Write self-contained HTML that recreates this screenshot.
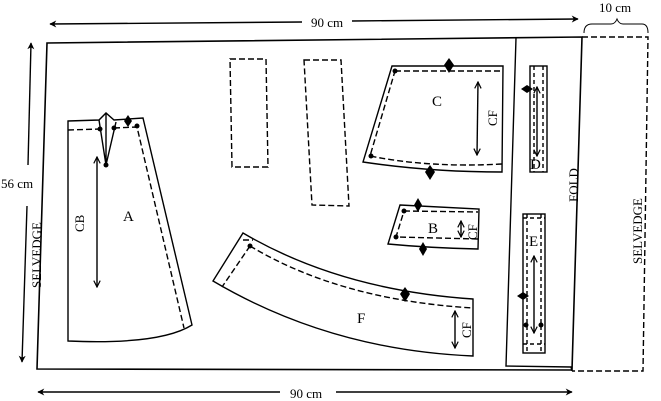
<!DOCTYPE html>
<html><head><style>
html,body{margin:0;padding:0;background:#fff;overflow:hidden;}
svg{display:block;}
text{font-family:"Liberation Serif",serif;fill:#000;stroke:none;}
</style></head><body>
<svg width="661" height="401" viewBox="0 0 661 401" xmlns="http://www.w3.org/2000/svg">
<defs>
<marker id="ah" viewBox="0 0 10 10" refX="9" refY="5" markerWidth="9" markerHeight="7" orient="auto-start-reverse" markerUnits="userSpaceOnUse">
<path d="M0,0 L10,5 L0,10 L3,5 Z" fill="#000"/></marker>
<marker id="oa" viewBox="0 0 10 10" refX="9" refY="5" markerWidth="8" markerHeight="8" orient="auto-start-reverse" markerUnits="userSpaceOnUse">
<path d="M1,1 L9,5 L1,9" fill="none" stroke="#000" stroke-width="1.5"/></marker>
</defs>
<g fill="none" stroke="#000" stroke-width="1.4">
<path d="M47,43 L582,37 L572,370 L37,369 Z" stroke-width="1.6"/>
<path d="M582,37 L648,37 L643,371 L572,371" stroke-dasharray="6,3"/>
<path d="M516,38 L506,366 L571,367 L572,371"/>
<line x1="50" y1="24" x2="302" y2="22" marker-start="url(#ah)"/>
<line x1="352" y1="21" x2="578" y2="19" marker-end="url(#ah)"/>
<path d="M584,33 Q584,24 592,24 L611,24 Q615,24 617,19 Q619,24 623,24 L642,24 Q648,24 648,33" stroke-width="1"/>
<line x1="28" y1="165" x2="31" y2="43" marker-end="url(#ah)"/>
<line x1="27" y1="206" x2="22" y2="362" marker-end="url(#ah)"/>
<line x1="280" y1="392" x2="38" y2="392" marker-end="url(#ah)"/>
<line x1="336" y1="392" x2="572" y2="392" marker-end="url(#ah)"/>
<path d="M230,59 L266,59 L268,167 L232,167 Z" stroke-dasharray="6,3"/>
<path d="M304,60 L341,60 L349,206 L312,205 Z" stroke-dasharray="6,3"/>
<path d="M68,121 L99,120 L106,113 L114,120 L143,118 L192,325 Q160,345 68,341 Z"/>
<path d="M99,120 L106,165 L116,122 M106,113 L106,165"/>
<path d="M68,130 L100,129 M114,128 L137,127 L184,328" stroke-dasharray="6,3"/>
<line x1="97" y1="157" x2="97" y2="287" marker-start="url(#oa)" marker-end="url(#oa)"/>
<path d="M392,66 L503,66 L502,172 Q430,172 363,162 Z"/>
<path d="M395,71 L502,71 M502,164 Q430,168 370,156 L395,71" stroke-dasharray="6,3"/>
<line x1="478" y1="82" x2="477" y2="155" marker-start="url(#oa)" marker-end="url(#oa)"/>
<rect x="530" y="66" width="17" height="106"/>
<path d="M534,66 L534,172 M543,66 L543,172" stroke-dasharray="4,3"/>
<line x1="537" y1="87" x2="537" y2="156" marker-start="url(#oa)" marker-end="url(#oa)"/>
<path d="M400,205 L479,209 L478,249 Q430,248 388,244 Z"/>
<path d="M404,211 L478,212 M478,239 L396,237 L404,211" stroke-dasharray="6,3"/>
<line x1="461" y1="221" x2="461" y2="237" marker-start="url(#oa)" marker-end="url(#oa)"/>
<rect x="523" y="214" width="22" height="139"/>
<path d="M527,214 L527,353 M541,214 L541,353 M523,218 L545,218 M523,344 L545,344" stroke-dasharray="4,3"/>
<line x1="534" y1="256" x2="534" y2="333" marker-start="url(#oa)" marker-end="url(#oa)"/>
<path d="M243,233 Q340,290 473,299 L473,356 Q330,350 213,281 Z"/>
<path d="M250,246 Q340,300 473,308 M250,246 L222,287 M243,240 L253,240" stroke-dasharray="6,3"/>
<line x1="455" y1="311" x2="455" y2="348" marker-start="url(#oa)" marker-end="url(#oa)"/>
</g>
<g fill="#000" stroke="none">
<path d="M128,115 L132,121 L128,127 L124,121 Z"/>
<path d="M449,58 L454,65 L449,73 L444,65 Z"/>
<path d="M430,165 L435,172 L430,180 L425,172 Z"/>
<path d="M418,198 L422,205 L418,212 L414,205 Z"/>
<path d="M423,242 L427,249 L423,256 L419,249 Z"/>
<path d="M405,287 L410,294 L405,302 L400,294 Z"/>
<path d="M521,89 L527,85 L533,89 L527,93 Z"/>
<path d="M517,296 L523,292 L529,296 L523,300 Z"/>
<circle cx="100" cy="129" r="2.5"/><circle cx="114" cy="128" r="2.5"/>
<circle cx="137" cy="126" r="2.5"/><circle cx="106" cy="165" r="2.5"/>
<circle cx="395" cy="71" r="2.5"/><circle cx="371" cy="156" r="2.5"/>
<circle cx="404" cy="211" r="2.5"/><circle cx="396" cy="237" r="2.5"/>
<circle cx="250" cy="246" r="2.5"/>
<circle cx="526" cy="325" r="2.5"/><circle cx="541" cy="325" r="2.5"/>
</g>
<g font-size="13">
<text x="311" y="27">90 cm</text>
<text x="599" y="12">10 cm</text>
<text x="1" y="188">56 cm</text>
<text x="290" y="398">90 cm</text>
<text x="123" y="221" font-size="15">A</text>
<text x="432" y="106" font-size="15">C</text>
<text x="428" y="233" font-size="15">B</text>
<text x="530" y="169" font-size="15">D</text>
<text x="529" y="246" font-size="15">E</text>
<text x="357" y="323" font-size="15">F</text>
<text transform="translate(41,288) rotate(-90)">SELVEDGE</text>
<text transform="translate(642,264) rotate(-90)">SELVEDGE</text>
<text transform="translate(578,202) rotate(-90)">FOLD</text>
<text transform="translate(84,232) rotate(-90)">CB</text>
<text transform="translate(497,126) rotate(-90)">CF</text>
<text transform="translate(477,240) rotate(-90)">CF</text>
<text transform="translate(471,338) rotate(-90)">CF</text>
</g>
</svg>
</body></html>
